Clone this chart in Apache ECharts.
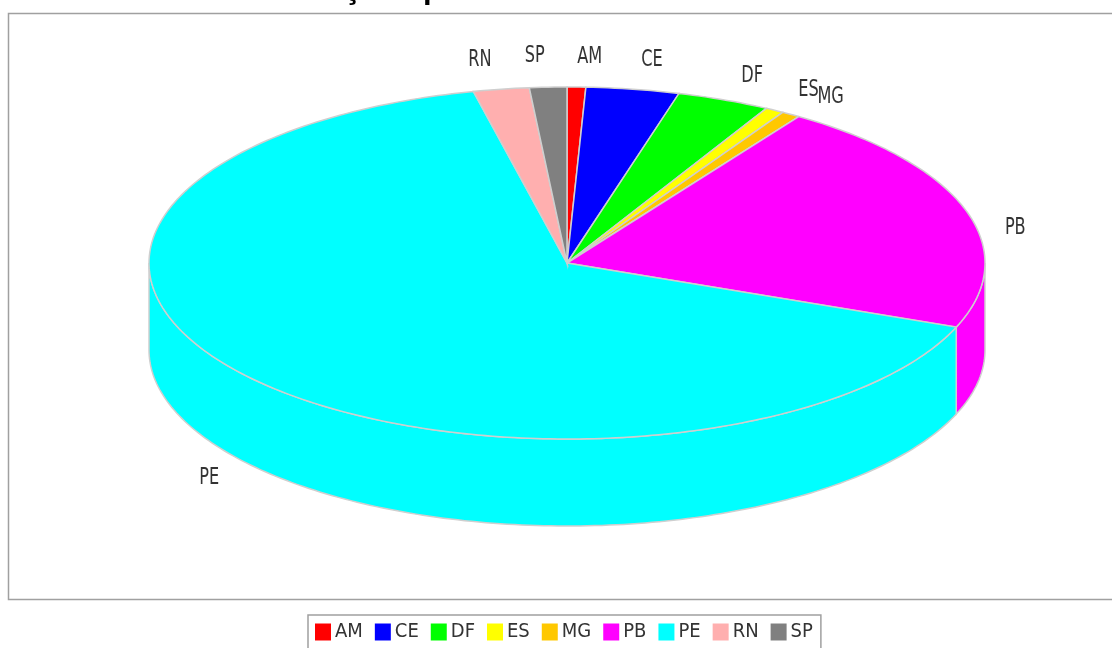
<!DOCTYPE html>
<html><head><meta charset="utf-8">
<style>html,body{margin:0;padding:0;background:#fff;overflow:hidden}#c{width:1112px;height:648px;filter:blur(0.5px)}</style>
<script src="https://cdn.jsdelivr.net/npm/echarts@6/dist/echarts.min.js"></script>
</head><body><div id="c"></div>
<script>
const categories = ['AM','CE','DF','ES','MG','PB','PE','RN','SP'];
const values = [1,5,5,1,1,30,91,3,2];
const colors = ['#ff0000','#0000ff','#00ff00','#ffff00','#ffc800','#ff00ff','#00ffff','#ffafaf','#808080'];
const labelNudgeX = [12,11,9,8,12,0,-2,-13,-11];
const labelNudgeY = [-2,-2,2,4,6,26,82,-2,-3];

const cx = 567, cy = 263, rx = 418, ry = 176, depth = 87;
const labelRx = 470, labelRy = 204;
const total = values.reduce((a,b)=>a+b,0);
const FONT = '"DejaVu Sans Condensed","DejaVu Sans",sans-serif';
const rad = d => d*Math.PI/180;
const pt = (deg,dy) => [cx + rx*Math.sin(rad(deg)), cy - ry*Math.cos(rad(deg)) + (dy||0)];
function arc(a,b,dy){const p=[];const n=Math.max(2,Math.ceil(Math.abs(b-a)));for(let i=0;i<=n;i++)p.push(pt(a+(b-a)*i/n,dy));return p;}

function makeRender(idx){
  return function(params, api){
    const v = api.value(0);
    const before = values.slice(0,idx).reduce((a,b)=>a+b,0);
    const a0 = before/total*360, a1 = a0 + v/total*360, mid=(a0+a1)/2;
    const color = colors[idx], children=[];
    const w0=Math.max(a0,90), w1=Math.min(a1,270);
    if(w1>w0){
      const top=arc(w0,w1,0), bot=arc(w1,w0,depth);
      children.push({type:'polygon',shape:{points:top.concat(bot)},style:{fill:color,stroke:'#cfcfcf',lineWidth:1.5},z2:1});
    }
    children.push({type:'polygon',shape:{points:[[cx,cy]].concat(arc(a0,a1,0))},style:{fill:color,stroke:'#cfcfcf',lineWidth:1.5},z2:2});
    children.push({type:'text',
      x:cx+labelRx*Math.sin(rad(mid))+labelNudgeX[idx],
      y:cy-labelRy*Math.cos(rad(mid))+labelNudgeY[idx],
      scaleX:0.78,
      style:{text:categories[idx],fontFamily:FONT,fontSize:23,fill:'#333',align:'center',verticalAlign:'middle'},z2:5});
    return {type:'group',children};
  };
}

const chart = echarts.init(document.getElementById('c'),null,{renderer:'canvas'});
chart.setOption({
  animation:false,
  backgroundColor:'#fff',
  title:{text:'Notificações por Estado',left:225,top:-31,textStyle:{fontFamily:'"Liberation Sans",sans-serif',fontWeight:'bold',fontSize:31,color:'#000'}},
  graphic:[{type:'rect',shape:{x:8.5,y:13.5,width:1120,height:586},style:{fill:'#fff',stroke:'#a0a0a0',lineWidth:1.5},z:-1}],
  legend:{
    left:308,top:615,padding:[7,8,12,7],
    borderColor:'#a0a0a0',borderWidth:1.5,
    icon:'rect',itemWidth:16,itemHeight:17,itemGap:12,
    selectedMode:false,
    textStyle:{fontFamily:FONT,fontSize:20,color:'#333',padding:[0,0,0,-1]},
    data:categories
  },
  series:categories.map((n,i)=>({
    type:'custom',name:n,coordinateSystem:'none',
    itemStyle:{color:colors[i]},
    data:[[values[i]]],
    renderItem:makeRender(i),
    silent:true
  }))
});
</script></body></html>
